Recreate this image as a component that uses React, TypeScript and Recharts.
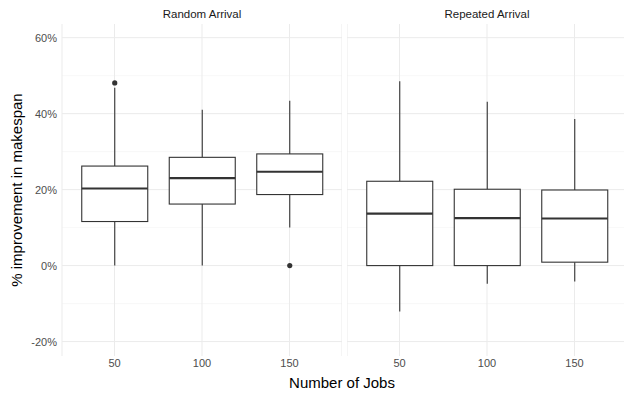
import React from "react";
import { ComposedChart, Bar, XAxis, YAxis, CartesianGrid } from "recharts";

// Boxplot summaries (% improvement in makespan)
const JOBS = ["50", "100", "150"];

const RANDOM_LOW = [0, 0, 10.0];
const RANDOM_Q1 = [11.6, 16.2, 18.7];
const RANDOM_MED = [20.3, 23.0, 24.7];
const RANDOM_Q3 = [26.2, 28.5, 29.4];
const RANDOM_HIGH = [46.8, 41.0, 43.4];
const RANDOM_OUTLIERS = [[48.1], [], [0]];

const REPEATED_LOW = [-12.1, -4.8, -4.2];
const REPEATED_Q1 = [0, 0, 0.9];
const REPEATED_MED = [13.7, 12.5, 12.4];
const REPEATED_Q3 = [22.2, 20.1, 19.9];
const REPEATED_HIGH = [48.5, 43.1, 38.6];
const REPEATED_OUTLIERS = [[], [], []];

const MAJOR_TICKS = [-20, 0, 20, 40, 60];
const MINOR_TICKS = [-10, 10, 30, 50];
const Y_DOMAIN = [-23.8, 63.6];

const FONT = "'Liberation Sans', Arial, sans-serif";
const BOX_COLOR = "#333333";
const TICK_COLOR = "#4D4D4D";

interface BoxRow {
  job: string;
  low: number;
  q1: number;
  med: number;
  q3: number;
  high: number;
  outliers: number[];
}

function buildRows(
  low: number[],
  q1: number[],
  med: number[],
  q3: number[],
  high: number[],
  outliers: number[][],
): BoxRow[] {
  return JOBS.map((job, i) => ({
    job,
    low: low[i],
    q1: q1[i],
    med: med[i],
    q3: q3[i],
    high: high[i],
    outliers: outliers[i],
  }));
}

const randomRows = buildRows(RANDOM_LOW, RANDOM_Q1, RANDOM_MED, RANDOM_Q3, RANDOM_HIGH, RANDOM_OUTLIERS);
const repeatedRows = buildRows(REPEATED_LOW, REPEATED_Q1, REPEATED_MED, REPEATED_Q3, REPEATED_HIGH, REPEATED_OUTLIERS);

// the bar spans q1..q3; whiskers, median and outliers use the same pixel scale
function BoxShape(props: any) {
  const { x, y, width, height, payload } = props;
  const d = payload as BoxRow;
  const top = Math.min(y, y + height);
  const bottom = Math.max(y, y + height);
  const ppu = (bottom - top) / (d.q3 - d.q1);
  const toY = (v: number) => bottom - (v - d.q1) * ppu;
  const cx = x + width / 2;
  return (
    <g>
      <line x1={cx} x2={cx} y1={top} y2={toY(d.high)} stroke={BOX_COLOR} strokeWidth={1.1} />
      <line x1={cx} x2={cx} y1={bottom} y2={toY(d.low)} stroke={BOX_COLOR} strokeWidth={1.1} />
      <rect x={x} y={top} width={width} height={bottom - top} fill="#ffffff" stroke={BOX_COLOR} strokeWidth={1.1} />
      <line x1={x} x2={x + width} y1={toY(d.med)} y2={toY(d.med)} stroke={BOX_COLOR} strokeWidth={2.2} />
      {d.outliers.map((o, i) => (
        <circle key={i} cx={cx} cy={toY(o)} r={2.6} fill={BOX_COLOR} />
      ))}
    </g>
  );
}

function XTick({ x, y, payload }: any) {
  return (
    <text x={x} y={y + 10} textAnchor="middle" fontSize={11} fontFamily={FONT} fill={TICK_COLOR}>
      {payload.value}
    </text>
  );
}

function YTick({ x, y, payload }: any) {
  return (
    <text x={x} y={y + 4} textAnchor="end" fontSize={11} fontFamily={FONT} fill={TICK_COLOR}>
      {`${payload.value}%`}
    </text>
  );
}

function Panel({ rows, showYAxis, width }: { rows: BoxRow[]; showYAxis: boolean; width: number }) {
  return (
    <ComposedChart
      width={width}
      height={395}
      data={rows}
      margin={{ top: 24, right: 0, bottom: 0, left: 0 }}
    >
      <CartesianGrid
        horizontalValues={MINOR_TICKS}
        vertical={false}
        stroke="#F3F3F3"
        strokeWidth={0.6}
      />
      <CartesianGrid horizontalValues={MAJOR_TICKS} stroke="#EBEBEB" strokeWidth={1} />
      <XAxis
        dataKey="job"
        type="category"
        height={39}
        padding={{ left: 8.75, right: 8.75 }}
        axisLine={false}
        tickLine={false}
        tickSize={0}
        tickMargin={1}
        tick={<XTick />}
      />
      <YAxis
        hide={!showYAxis}
        width={62}
        domain={Y_DOMAIN}
        ticks={MAJOR_TICKS}
        allowDataOverflow
        axisLine={false}
        tickLine={false}
        tickSize={0}
        tickMargin={5}
        tick={<YTick />}
      />
      <Bar
        dataKey={(d: BoxRow) => [d.q1, d.q3]}
        barSize={66}
        shape={BoxShape}
        isAnimationActive={false}
      />
    </ComposedChart>
  );
}

const stripStyle: React.CSSProperties = {
  position: "absolute",
  width: 280,
  top: 6,
  lineHeight: "16px",
  fontSize: 11.5,
  color: "#1A1A1A",
  textAlign: "center",
};

export default function App() {
  return (
    <div
      style={{
        position: "fixed",
        left: 0,
        top: 0,
        width: 624,
        height: 395,
        overflow: "hidden",
        background: "#ffffff",
        fontFamily: FONT,
      }}
    >
      <div style={{ position: "absolute", left: 0, top: 0 }}>
        <Panel rows={randomRows} showYAxis width={342} />
      </div>
      <div style={{ position: "absolute", left: 347, top: 0 }}>
        <Panel rows={repeatedRows} showYAxis={false} width={280} />
      </div>
      <div style={{ ...stripStyle, left: 62 }}>Random Arrival</div>
      <div style={{ ...stripStyle, left: 347 }}>Repeated Arrival</div>
      <div
        style={{
          position: "absolute",
          left: 62,
          width: 560,
          top: 374,
          lineHeight: "18px",
          fontSize: 15,
          color: "#000000",
          textAlign: "center",
        }}
      >
        Number of Jobs
      </div>
      <div
        style={{
          position: "absolute",
          left: 17 - 150,
          top: 190 - 9,
          width: 300,
          lineHeight: "18px",
          fontSize: 15,
          color: "#000000",
          textAlign: "center",
          transform: "rotate(-90deg)",
        }}
      >
        % improvement in makespan
      </div>
    </div>
  );
}
